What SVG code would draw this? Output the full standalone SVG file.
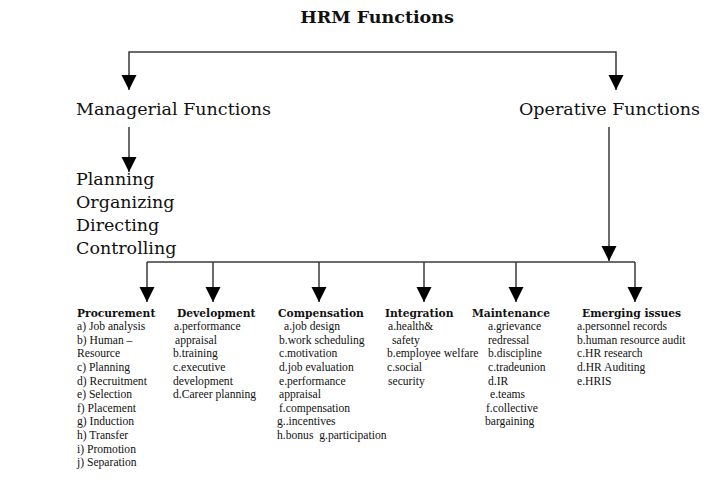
<svg xmlns="http://www.w3.org/2000/svg" width="712" height="486" viewBox="0 0 712 486">
<style>
.t{font-family:"DejaVu Serif","Liberation Serif",serif;fill:#111}
.title{font-size:17.5px;font-weight:bold;text-anchor:middle}
.big{font-size:17.5px}
.hd{font-family:"DejaVu Serif","Liberation Serif",serif;font-size:10.7px;font-weight:bold;fill:#111}
.it{font-family:"Liberation Serif","Times New Roman",serif;font-size:11.6px;fill:#111}
.c{fill:none;stroke:#3a3a3a;stroke-width:1.5}
</style>
<defs>
<marker id="ah" markerUnits="userSpaceOnUse" markerWidth="16" markerHeight="16" refX="15" refY="7.5" orient="auto">
<path d="M0,0 L15,7.5 L0,15 z" fill="#000"/>
</marker>
</defs>
<rect width="712" height="486" fill="#fff"/>
<g id="connectors">
<path class="c" d="M372,52 H129 V90" marker-end="url(#ah)"/>
<path class="c" d="M372,52 H616 V90" marker-end="url(#ah)"/>
<line class="c" x1="129" y1="127" x2="129" y2="172" marker-end="url(#ah)"/>
<line class="c" x1="609" y1="127" x2="609" y2="261" marker-end="url(#ah)"/>
<line class="c" x1="147" y1="262" x2="635" y2="262"/>
<line class="c" x1="147" y1="262" x2="147" y2="302" marker-end="url(#ah)"/>
<line class="c" x1="213" y1="262" x2="213" y2="302" marker-end="url(#ah)"/>
<line class="c" x1="319" y1="262" x2="319" y2="302" marker-end="url(#ah)"/>
<line class="c" x1="424" y1="262" x2="424" y2="302" marker-end="url(#ah)"/>
<line class="c" x1="516" y1="262" x2="516" y2="302" marker-end="url(#ah)"/>
<line class="c" x1="635" y1="262" x2="635" y2="302" marker-end="url(#ah)"/>
</g>
<g id="hrm"><text class="t title" x="377" y="23">HRM Functions</text></g>
<g id="managerial"><text class="t big" x="76" y="115">Managerial Functions</text></g>
<g id="operative"><text class="t big" x="519" y="115">Operative Functions</text></g>
<g id="managerial-list">
<text class="t big" x="76" y="185">Planning</text>
<text class="t big" x="76" y="208">Organizing</text>
<text class="t big" x="76" y="231">Directing</text>
<text class="t big" x="76" y="254">Controlling</text>
</g>
<g id="procurement">
<text class="hd" x="77" y="317">Procurement</text>
<text class="it" x="77" y="330">a) Job analysis</text>
<text class="it" x="77" y="343.6">b) Human –</text>
<text class="it" x="77" y="357.2">Resource</text>
<text class="it" x="77" y="370.9">c) Planning</text>
<text class="it" x="77" y="384.5">d) Recruitment</text>
<text class="it" x="77" y="398.1">e) Selection</text>
<text class="it" x="77" y="411.7">f) Placement</text>
<text class="it" x="77" y="425.3">g) Induction</text>
<text class="it" x="77" y="439">h) Transfer</text>
<text class="it" x="77" y="452.6">i) Promotion</text>
<text class="it" x="77" y="466.2">j) Separation</text>
</g>
<g id="development">
<text class="hd" x="177" y="317">Development</text>
<text class="it" x="174" y="330">a.performance</text>
<text class="it" x="175" y="343.6">appraisal</text>
<text class="it" x="173" y="357.2">b.training</text>
<text class="it" x="173" y="370.9">c.executive</text>
<text class="it" x="173" y="384.5">development</text>
<text class="it" x="173" y="398.1">d.Career planning</text>
</g>
<g id="compensation">
<text class="hd" x="278" y="317">Compensation</text>
<text class="it" x="284" y="330">a.job design</text>
<text class="it" x="279" y="343.6">b.work scheduling</text>
<text class="it" x="279" y="357.2">c.motivation</text>
<text class="it" x="279" y="370.9">d.job evaluation</text>
<text class="it" x="279" y="384.5">e.performance</text>
<text class="it" x="279" y="398.1">appraisal</text>
<text class="it" x="279" y="411.7">f.compensation</text>
<text class="it" x="277" y="425.3">g..incentives</text>
<text class="it" x="277" y="439" xml:space="preserve">h.bonus  g.participation</text>
</g>
<g id="integration">
<text class="hd" x="385" y="317">Integration</text>
<text class="it" x="388" y="330">a.health&amp;</text>
<text class="it" x="392" y="343.6">safety</text>
<text class="it" x="387" y="357.2">b.employee welfare</text>
<text class="it" x="387" y="370.9">c.social</text>
<text class="it" x="388" y="384.5">security</text>
</g>
<g id="maintenance">
<text class="hd" x="472" y="317">Maintenance</text>
<text class="it" x="488" y="330">a.grievance</text>
<text class="it" x="488" y="343.6">redressal</text>
<text class="it" x="488" y="357.2">b.discipline</text>
<text class="it" x="488" y="370.9">c.tradeunion</text>
<text class="it" x="488" y="384.5">d.IR</text>
<text class="it" x="490" y="398.1">e.teams</text>
<text class="it" x="486" y="411.7">f.collective</text>
<text class="it" x="485" y="425.3">bargaining</text>
</g>
<g id="emerging">
<text class="hd" x="582" y="317">Emerging issues</text>
<text class="it" x="577" y="330">a.personnel records</text>
<text class="it" x="577" y="343.6">b.human resource audit</text>
<text class="it" x="577" y="357.2">c.HR research</text>
<text class="it" x="577" y="370.9">d.HR Auditing</text>
<text class="it" x="577" y="384.5">e.HRIS</text>
</g>
</svg>
